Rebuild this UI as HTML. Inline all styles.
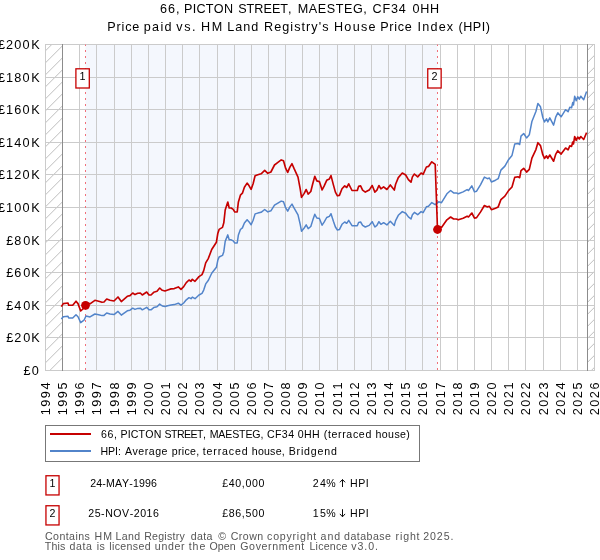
<!DOCTYPE html>
<html><head><meta charset="utf-8"><title>HPI chart</title>
<style>
html,body{margin:0;padding:0;background:#fff;}
svg{display:block;will-change:transform;}
text{font-family:"Liberation Sans",sans-serif;font-kerning:none;}
</style></head>
<body>
<svg width="600" height="560" viewBox="0 0 600 560">
<rect x="0" y="0" width="600" height="560" fill="#ffffff"/>
<defs>
<clipPath id="cl"><rect x="45" y="44" width="18" height="327"/></clipPath>
<clipPath id="cr"><rect x="587" y="44" width="8" height="327"/></clipPath>
<clipPath id="ax"><rect x="45" y="44" width="550" height="327"/></clipPath>
</defs>
<rect x="85.5" y="44.5" width="352.0" height="326" fill="#f4f7fd"/>
<path d="M40.0,-27.7L70.0,-57.7M40.0,-15.7L70.0,-45.7M40.0,-3.7L70.0,-33.7M40.0,8.3L70.0,-21.7M40.0,20.3L70.0,-9.7M40.0,32.3L70.0,2.3M40.0,44.3L70.0,14.3M40.0,56.3L70.0,26.3M40.0,68.3L70.0,38.3M40.0,80.3L70.0,50.3M40.0,92.3L70.0,62.3M40.0,104.3L70.0,74.3M40.0,116.3L70.0,86.3M40.0,128.3L70.0,98.3M40.0,140.3L70.0,110.3M40.0,152.3L70.0,122.3M40.0,164.3L70.0,134.3M40.0,176.3L70.0,146.3M40.0,188.3L70.0,158.3M40.0,200.3L70.0,170.3M40.0,212.3L70.0,182.3M40.0,224.3L70.0,194.3M40.0,236.3L70.0,206.3M40.0,248.3L70.0,218.3M40.0,260.3L70.0,230.3M40.0,272.3L70.0,242.3M40.0,284.3L70.0,254.3M40.0,296.3L70.0,266.3M40.0,308.3L70.0,278.3M40.0,320.3L70.0,290.3M40.0,332.3L70.0,302.3M40.0,344.3L70.0,314.3M40.0,356.3L70.0,326.3M40.0,368.3L70.0,338.3M40.0,380.3L70.0,350.3M40.0,392.3L70.0,362.3M40.0,404.3L70.0,374.3M40.0,416.3L70.0,386.3M40.0,428.3L70.0,398.3M40.0,440.3L70.0,410.3M40.0,452.3L70.0,422.3M40.0,464.3L70.0,434.3M40.0,476.3L70.0,446.3M40.0,488.3L70.0,458.3M40.0,500.3L70.0,470.3M40.0,512.3L70.0,482.3M40.0,524.3L70.0,494.3M40.0,536.3L70.0,506.3M40.0,548.3L70.0,518.3M40.0,560.3L70.0,530.3M40.0,572.3L70.0,542.3M40.0,584.3L70.0,554.3M40.0,596.3L70.0,566.3M40.0,608.3L70.0,578.3M40.0,620.3L70.0,590.3M40.0,632.3L70.0,602.3M40.0,644.3L70.0,614.3M40.0,656.3L70.0,626.3M40.0,668.3L70.0,638.3M40.0,680.3L70.0,650.3M40.0,692.3L70.0,662.3M40.0,704.3L70.0,674.3M40.0,716.3L70.0,686.3M40.0,728.3L70.0,698.3M40.0,740.3L70.0,710.3M40.0,752.3L70.0,722.3M40.0,764.3L70.0,734.3M40.0,776.3L70.0,746.3M40.0,788.3L70.0,758.3M40.0,800.3L70.0,770.3M40.0,812.3L70.0,782.3M40.0,824.3L70.0,794.3M40.0,836.3L70.0,806.3M40.0,848.3L70.0,818.3M40.0,860.3L70.0,830.3M40.0,872.3L70.0,842.3M40.0,884.3L70.0,854.3M40.0,896.3L70.0,866.3M40.0,908.3L70.0,878.3M40.0,920.3L70.0,890.3M40.0,932.3L70.0,902.3M40.0,944.3L70.0,914.3M40.0,956.3L70.0,926.3M40.0,968.3L70.0,938.3M40.0,980.3L70.0,950.3M40.0,992.3L70.0,962.3M40.0,1004.3L70.0,974.3M40.0,1016.3L70.0,986.3M40.0,1028.3L70.0,998.3M40.0,1040.3L70.0,1010.3M40.0,1052.3L70.0,1022.3M40.0,1064.3L70.0,1034.3" stroke="#b6b6b6" stroke-width="0.9" fill="none" clip-path="url(#cl)"/>
<path d="M580.0,-578.2L600.0,-598.2M580.0,-566.2L600.0,-586.2M580.0,-554.2L600.0,-574.2M580.0,-542.2L600.0,-562.2M580.0,-530.2L600.0,-550.2M580.0,-518.2L600.0,-538.2M580.0,-506.2L600.0,-526.2M580.0,-494.2L600.0,-514.2M580.0,-482.2L600.0,-502.2M580.0,-470.2L600.0,-490.2M580.0,-458.2L600.0,-478.2M580.0,-446.2L600.0,-466.2M580.0,-434.2L600.0,-454.2M580.0,-422.2L600.0,-442.2M580.0,-410.2L600.0,-430.2M580.0,-398.2L600.0,-418.2M580.0,-386.2L600.0,-406.2M580.0,-374.2L600.0,-394.2M580.0,-362.2L600.0,-382.2M580.0,-350.2L600.0,-370.2M580.0,-338.2L600.0,-358.2M580.0,-326.2L600.0,-346.2M580.0,-314.2L600.0,-334.2M580.0,-302.2L600.0,-322.2M580.0,-290.2L600.0,-310.2M580.0,-278.2L600.0,-298.2M580.0,-266.2L600.0,-286.2M580.0,-254.2L600.0,-274.2M580.0,-242.2L600.0,-262.2M580.0,-230.2L600.0,-250.2M580.0,-218.2L600.0,-238.2M580.0,-206.2L600.0,-226.2M580.0,-194.2L600.0,-214.2M580.0,-182.2L600.0,-202.2M580.0,-170.2L600.0,-190.2M580.0,-158.2L600.0,-178.2M580.0,-146.2L600.0,-166.2M580.0,-134.2L600.0,-154.2M580.0,-122.2L600.0,-142.2M580.0,-110.2L600.0,-130.2M580.0,-98.2L600.0,-118.2M580.0,-86.2L600.0,-106.2M580.0,-74.2L600.0,-94.2M580.0,-62.2L600.0,-82.2M580.0,-50.2L600.0,-70.2M580.0,-38.2L600.0,-58.2M580.0,-26.2L600.0,-46.2M580.0,-14.2L600.0,-34.2M580.0,-2.2L600.0,-22.2M580.0,9.8L600.0,-10.2M580.0,21.8L600.0,1.8M580.0,33.8L600.0,13.8M580.0,45.8L600.0,25.8M580.0,57.8L600.0,37.8M580.0,69.8L600.0,49.8M580.0,81.8L600.0,61.8M580.0,93.8L600.0,73.8M580.0,105.8L600.0,85.8M580.0,117.8L600.0,97.8M580.0,129.8L600.0,109.8M580.0,141.8L600.0,121.8M580.0,153.8L600.0,133.8M580.0,165.8L600.0,145.8M580.0,177.8L600.0,157.8M580.0,189.8L600.0,169.8M580.0,201.8L600.0,181.8M580.0,213.8L600.0,193.8M580.0,225.8L600.0,205.8M580.0,237.8L600.0,217.8M580.0,249.8L600.0,229.8M580.0,261.8L600.0,241.8M580.0,273.8L600.0,253.8M580.0,285.8L600.0,265.8M580.0,297.8L600.0,277.8M580.0,309.8L600.0,289.8M580.0,321.8L600.0,301.8M580.0,333.8L600.0,313.8M580.0,345.8L600.0,325.8M580.0,357.8L600.0,337.8M580.0,369.8L600.0,349.8M580.0,381.8L600.0,361.8M580.0,393.8L600.0,373.8M580.0,405.8L600.0,385.8M580.0,417.8L600.0,397.8M580.0,429.8L600.0,409.8M580.0,441.8L600.0,421.8M580.0,453.8L600.0,433.8M580.0,465.8L600.0,445.8M580.0,477.8L600.0,457.8M580.0,489.8L600.0,469.8M580.0,501.8L600.0,481.8M580.0,513.8L600.0,493.8" stroke="#b6b6b6" stroke-width="0.9" fill="none" clip-path="url(#cr)"/>
<path d="M45.5,44V371M62.5,44V371M79.5,44V371M96.5,44V371M114.5,44V371M131.5,44V371M148.5,44V371M165.5,44V371M182.5,44V371M199.5,44V371M217.5,44V371M234.5,44V371M251.5,44V371M268.5,44V371M285.5,44V371M302.5,44V371M319.5,44V371M337.5,44V371M354.5,44V371M371.5,44V371M388.5,44V371M405.5,44V371M422.5,44V371M440.5,44V371M457.5,44V371M474.5,44V371M491.5,44V371M508.5,44V371M525.5,44V371M543.5,44V371M560.5,44V371M577.5,44V371M594.5,44V371M45,370.5H595M45,337.5H595M45,305.5H595M45,272.5H595M45,240.5H595M45,207.5H595M45,174.5H595M45,142.5H595M45,109.5H595M45,77.5H595M45,44.5H595" stroke="#cbcbcb" stroke-width="1" fill="none" shape-rendering="crispEdges"/>
<path d="M62.5,44V371M587.5,44V371" stroke="#8c8c8c" stroke-width="1" fill="none"/>
<path d="M85.5,370V44.5" stroke="#f0707a" stroke-width="1" stroke-dasharray="2 4" fill="none"/>
<path d="M437.5,370V44.5" stroke="#f0707a" stroke-width="1" stroke-dasharray="2 4" fill="none"/>
<polyline points="61.3,319.1 63.3,316.7 68.0,316.2 68.7,318.0 72.7,318.0 76.0,314.7 78.0,316.7 80.7,322.6 84.0,320.2 86.0,316.0 90.0,316.9 94.9,314.0 98.7,314.7 102.0,315.6 104.0,315.4 106.7,313.0 110.0,314.0 114.0,314.6 118.0,311.4 121.3,315.1 127.3,310.8 130.0,310.2 132.7,308.2 135.0,309.4 137.7,308.4 140.3,308.2 142.3,309.8 146.7,307.3 149.0,309.8 151.0,309.8 153.7,307.6 157.0,306.8 159.7,304.1 162.3,306.0 165.0,306.5 167.7,305.7 171.0,304.9 174.3,304.6 178.3,303.2 181.0,305.2 183.7,303.0 186.3,299.8 189.0,297.7 191.0,298.7 192.3,297.1 195.0,298.7 199.0,295.0 202.0,293.3 203.7,290.1 205.7,283.9 208.4,280.2 211.7,273.2 216.4,267.3 217.8,260.3 219.1,257.0 222.5,255.4 223.8,251.7 225.2,241.4 227.8,234.9 229.2,239.8 231.2,239.8 233.2,240.9 234.8,243.0 237.2,243.0 238.4,234.9 240.4,229.5 242.4,227.9 244.4,223.0 247.1,219.7 249.1,221.9 251.1,224.8 253.1,220.3 255.1,213.9 257.8,213.1 261.1,212.3 264.7,209.5 267.8,211.9 270.9,210.8 274.5,205.2 277.9,203.1 281.2,201.1 283.5,201.8 285.7,207.9 287.7,211.1 289.9,206.9 292.0,204.1 294.0,207.9 298.0,214.9 300.2,224.3 301.5,231.2 304.2,228.0 306.2,224.9 308.2,228.6 310.8,226.5 312.8,220.1 314.8,214.3 316.8,218.0 319.4,218.5 322.1,225.2 324.1,222.2 326.7,217.5 329.4,216.4 331.0,213.7 333.4,221.2 335.4,227.0 337.4,230.0 339.4,229.6 342.0,224.3 344.7,222.0 346.7,223.3 348.7,220.3 352.0,225.7 357.3,225.7 358.6,222.4 360.6,222.0 362.6,225.4 365.3,227.0 369.2,225.4 372.2,221.7 374.9,227.0 376.9,225.4 378.9,221.7 380.9,224.3 383.6,222.7 386.9,224.9 390.3,221.2 394.3,225.4 395.6,220.6 398.3,215.3 402.3,211.6 405.7,213.2 408.4,216.9 411.0,219.0 412.4,214.7 414.4,212.4 417.7,214.7 421.1,211.6 423.1,212.7 426.4,206.8 428.5,206.3 431.8,202.6 435.2,204.7 438.7,201.8 441.5,202.7 446.9,193.8 450.6,190.5 453.6,192.9 456.3,192.9 458.3,193.8 463.1,191.9 467.1,189.6 468.5,190.5 471.8,185.9 474.5,191.9 476.6,191.2 480.6,184.6 484.4,177.1 487.4,178.7 489.4,178.0 491.4,182.0 495.5,180.2 498.2,178.7 500.9,170.1 504.9,166.1 508.7,159.4 512.0,155.4 514.7,144.1 518.0,143.4 519.7,144.5 521.0,136.1 523.7,133.5 526.6,137.9 529.3,134.8 531.9,121.5 535.9,111.5 537.9,103.5 540.5,106.8 542.8,117.5 544.5,121.9 546.5,118.8 547.8,121.9 549.8,117.9 553.6,125.1 555.8,116.8 557.8,112.8 561.1,116.8 565.6,109.7 568.1,111.8 569.8,107.2 571.6,107.8 572.7,102.6 573.5,104.9 574.7,96.2 576.2,100.8 577.7,96.8 579.3,99.1 580.8,96.2 583.7,99.7 586.6,91.6" fill="none" stroke="#5284ca" stroke-width="1.5" stroke-linejoin="round" stroke-linecap="butt" clip-path="url(#ax)"/>
<polyline points="61.3,306.6 63.3,303.6 68.0,303.0 68.7,305.2 72.7,305.2 76.0,301.2 78.0,303.6 80.7,311.0 84.0,308.0 86.0,302.7 90.0,303.9 94.9,300.3 98.7,301.2 102.0,302.3 104.0,302.0 106.7,299.0 110.0,300.3 114.0,301.0 118.0,297.0 121.3,301.6 127.3,296.3 130.0,295.6 132.7,293.0 135.0,294.6 137.7,293.3 140.3,293.0 142.3,295.0 146.7,292.0 149.0,295.0 151.0,295.0 153.7,292.3 157.0,291.3 159.7,288.0 162.3,290.3 165.0,291.0 167.7,290.0 171.0,288.9 174.3,288.6 178.3,286.9 181.0,289.3 183.7,286.6 186.3,282.6 189.0,280.0 191.0,281.3 192.3,279.3 195.0,281.3 199.0,276.6 202.0,274.6 203.7,270.6 205.7,262.9 208.4,258.3 211.7,249.5 216.4,242.2 217.8,233.5 219.1,229.4 222.5,227.4 223.8,222.8 225.2,210.0 227.8,202.0 229.2,208.0 231.2,208.0 233.2,209.4 234.8,212.0 237.2,212.0 238.4,201.9 240.4,195.2 242.4,193.2 244.4,187.2 247.1,183.1 249.1,185.8 251.1,189.4 253.1,183.8 255.1,175.8 257.8,174.8 261.1,173.8 264.7,170.4 267.8,173.3 270.9,172.0 274.5,165.0 277.9,162.4 281.2,159.9 283.5,160.8 285.7,168.4 287.7,172.4 289.9,167.1 292.0,163.7 294.0,168.4 298.0,177.1 300.2,188.8 301.5,197.4 304.2,193.4 306.2,189.5 308.2,194.1 310.8,191.5 312.8,183.5 314.8,176.3 316.8,180.9 319.4,181.6 322.1,189.9 324.1,186.2 326.7,180.3 329.4,178.9 331.0,175.6 333.4,184.9 335.4,192.1 337.4,195.8 339.4,195.4 342.0,188.8 344.7,185.9 346.7,187.5 348.7,183.8 352.0,190.5 357.3,190.5 358.6,186.4 360.6,185.9 362.6,190.1 365.3,192.1 369.2,190.1 372.2,185.5 374.9,192.1 376.9,190.1 378.9,185.5 380.9,188.8 383.6,186.8 386.9,189.5 390.3,184.9 394.3,190.1 395.6,184.2 398.3,177.6 402.3,173.0 405.7,175.0 408.4,179.6 411.0,182.2 412.4,176.9 414.4,174.0 417.7,176.9 421.1,173.0 423.1,174.3 426.4,167.0 428.5,166.4 431.8,161.8 435.2,164.4 437.5,229.5 438.7,226.6 441.5,227.4 446.9,219.8 450.6,217.0 453.6,219.0 456.3,219.0 458.3,219.8 463.1,218.2 467.1,216.2 468.5,217.0 471.8,213.0 474.5,218.2 476.6,217.6 480.6,211.9 484.4,205.5 487.4,206.9 489.4,206.3 491.4,209.7 495.5,208.2 498.2,206.9 500.9,199.6 504.9,196.1 508.7,190.4 512.0,187.0 514.7,177.4 518.0,176.8 519.7,177.7 521.0,170.6 523.7,168.3 526.6,172.1 529.3,169.4 531.9,158.1 535.9,149.6 537.9,142.7 540.5,145.6 542.8,154.7 544.5,158.4 546.5,155.8 547.8,158.4 549.8,155.0 553.6,161.2 555.8,154.1 557.8,150.7 561.1,154.1 565.6,148.0 568.1,149.8 569.8,145.9 571.6,146.4 572.7,142.0 573.5,143.9 574.7,136.5 576.2,140.4 577.7,137.0 579.3,139.0 580.8,136.5 583.7,139.5 586.6,132.6" fill="none" stroke="#c60000" stroke-width="1.65" stroke-linejoin="round" stroke-linecap="butt" clip-path="url(#ax)"/>
<circle cx="85.5" cy="305.3" r="4.4" fill="#c60000"/>
<circle cx="437.5" cy="229.5" r="4.4" fill="#c60000"/>
<rect x="75.90" y="68.8" width="13.4" height="19.2" fill="#fff" stroke="#c60000" stroke-width="1.3"/>
<text x="82.6" y="80" font-size="10.8" text-anchor="middle">1</text>
<rect x="427.75" y="68.8" width="13.4" height="19.2" fill="#fff" stroke="#c60000" stroke-width="1.3"/>
<text x="434.45" y="80" font-size="10.8" text-anchor="middle">2</text>
<text x="159.99" y="12.6" font-size="12.6" letter-spacing="1.001">66,</text>
<text x="183.97" y="12.6" font-size="12.6" letter-spacing="0.292">PICTON</text>
<text x="238.18" y="12.6" font-size="12.6" letter-spacing="0.041">STREET,</text>
<text x="297.72" y="12.6" font-size="12.6" letter-spacing="0.579">MAESTEG,</text>
<text x="372.61" y="12.6" font-size="12.6" letter-spacing="0.816">CF34</text>
<text x="412.51" y="12.6" font-size="12.6" letter-spacing="0.657">0HH</text>
<text x="107.22" y="31" font-size="12.6" letter-spacing="0.847">Price</text>
<text x="143.69" y="31" font-size="12.6" letter-spacing="1.351">paid</text>
<text x="176.33" y="31" font-size="12.6" letter-spacing="1.545">vs.</text>
<text x="201.06" y="31" font-size="12.6" letter-spacing="1.545">HM</text>
<text x="227.22" y="31" font-size="12.6" letter-spacing="1.022">Land</text>
<text x="263.97" y="31" font-size="12.6" letter-spacing="1.064">Registry&#39;s</text>
<text x="333.97" y="31" font-size="12.6" letter-spacing="1.293">House</text>
<text x="380.22" y="31" font-size="12.6" letter-spacing="0.722">Price</text>
<text x="417.59" y="31" font-size="12.6" letter-spacing="1.181">Index</text>
<text x="458.47" y="31" font-size="12.6" letter-spacing="0.542">(HPI)</text>
<text x="23.47 31.67" y="374.8" font-size="12.7">£0</text>
<text x="6.22 14.22 23.22 31.25" y="341.8" font-size="12.7">£20K</text>
<text x="6.22 14.22 23.22 31.25" y="309.8" font-size="12.7">£40K</text>
<text x="6.22 14.22 23.22 31.25" y="276.8" font-size="12.7">£60K</text>
<text x="6.22 14.22 23.22 31.25" y="244.8" font-size="12.7">£80K</text>
<text x="-2.03 6.07 14.22 22.47 31.25" y="211.8" font-size="12.7">£100K</text>
<text x="-2.03 6.07 14.22 22.47 31.25" y="178.8" font-size="12.7">£120K</text>
<text x="-2.03 6.07 14.22 22.47 31.25" y="146.8" font-size="12.7">£140K</text>
<text x="-2.03 6.07 14.22 22.47 31.25" y="113.8" font-size="12.7">£160K</text>
<text x="-2.03 6.07 14.22 22.47 31.25" y="81.8" font-size="12.7">£180K</text>
<text x="-2.03 6.07 14.22 22.47 31.25" y="48.8" font-size="12.7">£200K</text>
<text transform="translate(50.0,415.3) rotate(-90)" font-size="12.7" textLength="32.8" lengthAdjust="spacing">1994</text>
<text transform="translate(67.0,415.3) rotate(-90)" font-size="12.7" textLength="32.8" lengthAdjust="spacing">1995</text>
<text transform="translate(84.0,415.3) rotate(-90)" font-size="12.7" textLength="32.8" lengthAdjust="spacing">1996</text>
<text transform="translate(101.0,415.3) rotate(-90)" font-size="12.7" textLength="32.8" lengthAdjust="spacing">1997</text>
<text transform="translate(119.0,415.3) rotate(-90)" font-size="12.7" textLength="32.8" lengthAdjust="spacing">1998</text>
<text transform="translate(136.0,415.3) rotate(-90)" font-size="12.7" textLength="32.8" lengthAdjust="spacing">1999</text>
<text transform="translate(153.0,415.3) rotate(-90)" font-size="12.7" textLength="32.8" lengthAdjust="spacing">2000</text>
<text transform="translate(170.0,415.3) rotate(-90)" font-size="12.7" textLength="32.8" lengthAdjust="spacing">2001</text>
<text transform="translate(187.0,415.3) rotate(-90)" font-size="12.7" textLength="32.8" lengthAdjust="spacing">2002</text>
<text transform="translate(204.0,415.3) rotate(-90)" font-size="12.7" textLength="32.8" lengthAdjust="spacing">2003</text>
<text transform="translate(222.0,415.3) rotate(-90)" font-size="12.7" textLength="32.8" lengthAdjust="spacing">2004</text>
<text transform="translate(239.0,415.3) rotate(-90)" font-size="12.7" textLength="32.8" lengthAdjust="spacing">2005</text>
<text transform="translate(256.0,415.3) rotate(-90)" font-size="12.7" textLength="32.8" lengthAdjust="spacing">2006</text>
<text transform="translate(273.0,415.3) rotate(-90)" font-size="12.7" textLength="32.8" lengthAdjust="spacing">2007</text>
<text transform="translate(290.0,415.3) rotate(-90)" font-size="12.7" textLength="32.8" lengthAdjust="spacing">2008</text>
<text transform="translate(307.0,415.3) rotate(-90)" font-size="12.7" textLength="32.8" lengthAdjust="spacing">2009</text>
<text transform="translate(324.0,415.3) rotate(-90)" font-size="12.7" textLength="32.8" lengthAdjust="spacing">2010</text>
<text transform="translate(342.0,415.3) rotate(-90)" font-size="12.7" textLength="32.8" lengthAdjust="spacing">2011</text>
<text transform="translate(359.0,415.3) rotate(-90)" font-size="12.7" textLength="32.8" lengthAdjust="spacing">2012</text>
<text transform="translate(376.0,415.3) rotate(-90)" font-size="12.7" textLength="32.8" lengthAdjust="spacing">2013</text>
<text transform="translate(393.0,415.3) rotate(-90)" font-size="12.7" textLength="32.8" lengthAdjust="spacing">2014</text>
<text transform="translate(410.0,415.3) rotate(-90)" font-size="12.7" textLength="32.8" lengthAdjust="spacing">2015</text>
<text transform="translate(427.0,415.3) rotate(-90)" font-size="12.7" textLength="32.8" lengthAdjust="spacing">2016</text>
<text transform="translate(445.0,415.3) rotate(-90)" font-size="12.7" textLength="32.8" lengthAdjust="spacing">2017</text>
<text transform="translate(462.0,415.3) rotate(-90)" font-size="12.7" textLength="32.8" lengthAdjust="spacing">2018</text>
<text transform="translate(479.0,415.3) rotate(-90)" font-size="12.7" textLength="32.8" lengthAdjust="spacing">2019</text>
<text transform="translate(496.0,415.3) rotate(-90)" font-size="12.7" textLength="32.8" lengthAdjust="spacing">2020</text>
<text transform="translate(513.0,415.3) rotate(-90)" font-size="12.7" textLength="32.8" lengthAdjust="spacing">2021</text>
<text transform="translate(530.0,415.3) rotate(-90)" font-size="12.7" textLength="32.8" lengthAdjust="spacing">2022</text>
<text transform="translate(548.0,415.3) rotate(-90)" font-size="12.7" textLength="32.8" lengthAdjust="spacing">2023</text>
<text transform="translate(565.0,415.3) rotate(-90)" font-size="12.7" textLength="32.8" lengthAdjust="spacing">2024</text>
<text transform="translate(582.0,415.3) rotate(-90)" font-size="12.7" textLength="32.8" lengthAdjust="spacing">2025</text>
<text transform="translate(599.0,415.3) rotate(-90)" font-size="12.7" textLength="32.8" lengthAdjust="spacing">2026</text>
<rect x="45.5" y="425.5" width="373.6" height="36" fill="#fff" stroke="#777777" stroke-width="1" shape-rendering="crispEdges"/>
<path d="M50,434H91" stroke="#c60000" stroke-width="2" fill="none"/>
<path d="M50,451H91" stroke="#5284ca" stroke-width="2" fill="none"/>
<text x="100.94" y="437.5" font-size="10.6" letter-spacing="0.649">66,</text>
<text x="120.38" y="437.5" font-size="10.6" letter-spacing="0.188">PICTON</text>
<text x="164.52" y="437.5" font-size="10.6" letter-spacing="-0.554">STREET,</text>
<text x="209.63" y="437.5" font-size="10.6" letter-spacing="-0.136">MAESTEG,</text>
<text x="266.96" y="437.5" font-size="10.6" letter-spacing="0.393">CF34</text>
<text x="297.84" y="437.5" font-size="10.6" letter-spacing="0.287">0HH</text>
<text x="323.71" y="437.5" font-size="10.6" letter-spacing="0.649">(terraced</text>
<text x="375.52" y="437.5" font-size="10.6" letter-spacing="0.396">house)</text>
<text x="100.38" y="454.7" font-size="10.6" letter-spacing="-0.009">HPI:</text>
<text x="124.98" y="454.7" font-size="10.6" letter-spacing="0.502">Average</text>
<text x="171.82" y="454.7" font-size="10.6" letter-spacing="0.293">price,</text>
<text x="202.84" y="454.7" font-size="10.6" letter-spacing="0.851">terraced</text>
<text x="251.77" y="454.7" font-size="10.6" letter-spacing="0.222">house,</text>
<text x="288.63" y="454.7" font-size="10.6" letter-spacing="0.839">Bridgend</text>
<rect x="45.95" y="475.75" width="13.1" height="19.2" fill="#fff" stroke="#c60000" stroke-width="1.3"/>
<text x="52.4" y="487" font-size="10.6" text-anchor="middle">1</text>
<text x="123.6" y="487" font-size="10.6" text-anchor="middle" textLength="66.6" lengthAdjust="spacing">24-MAY-1996</text>
<text x="222.3" y="487" font-size="10.6" textLength="42" lengthAdjust="spacing">£40,000</text>
<text x="312.8 319.9 326.3" y="487" font-size="10.6">24%</text>
<text x="350.1" y="487" font-size="10.6" textLength="18.6" lengthAdjust="spacing">HPI</text>
<path d="M342.5,487V479.7M339.9,482.3L342.5,479.5L345.1,482.3" stroke="#000" stroke-width="0.95" fill="none"/>
<rect x="45.95" y="505.75" width="13.1" height="19.2" fill="#fff" stroke="#c60000" stroke-width="1.3"/>
<text x="52.4" y="517" font-size="10.6" text-anchor="middle">2</text>
<text x="123.6" y="517" font-size="10.6" text-anchor="middle" textLength="70.7" lengthAdjust="spacing">25-NOV-2016</text>
<text x="222.3" y="517" font-size="10.6" textLength="42" lengthAdjust="spacing">£86,500</text>
<text x="312.8 319.9 326.3" y="517" font-size="10.6">15%</text>
<text x="350.1" y="517" font-size="10.6" textLength="18.6" lengthAdjust="spacing">HPI</text>
<path d="M342.5,509.2V516.6M339.9,513.9L342.5,516.8L345.1,513.9" stroke="#000" stroke-width="0.95" fill="none"/>
<text x="44.96" y="539.6" font-size="10.6" letter-spacing="0.441" fill="#555555">Contains</text>
<text x="94.61" y="539.6" font-size="10.6" letter-spacing="1.043" fill="#555555">HM</text>
<text x="115.38" y="539.6" font-size="10.6" letter-spacing="0.407" fill="#555555">Land</text>
<text x="144.13" y="539.6" font-size="10.6" letter-spacing="0.252" fill="#555555">Registry</text>
<text x="190.80" y="539.6" font-size="10.6" letter-spacing="0.355" fill="#555555">data</text>
<text x="218.35" y="539.6" font-size="10.6" letter-spacing="0.000" fill="#555555">©</text>
<text x="230.71" y="539.6" font-size="10.6" letter-spacing="0.462" fill="#555555">Crown</text>
<text x="267.05" y="539.6" font-size="10.6" letter-spacing="0.783" fill="#555555">copyright</text>
<text x="320.55" y="539.6" font-size="10.6" letter-spacing="0.974" fill="#555555">and</text>
<text x="344.05" y="539.6" font-size="10.6" letter-spacing="0.471" fill="#555555">database</text>
<text x="395.55" y="539.6" font-size="10.6" letter-spacing="0.853" fill="#555555">right</text>
<text x="423.22" y="539.6" font-size="10.6" letter-spacing="0.931" fill="#555555">2025.</text>
<text x="44.76" y="549.9" font-size="10.6" letter-spacing="0.199" fill="#555555">This</text>
<text x="69.55" y="549.9" font-size="10.6" letter-spacing="0.605" fill="#555555">data</text>
<text x="96.79" y="549.9" font-size="10.6" letter-spacing="0.437" fill="#555555">is</text>
<text x="109.29" y="549.9" font-size="10.6" letter-spacing="0.358" fill="#555555">licensed</text>
<text x="154.81" y="549.9" font-size="10.6" letter-spacing="0.688" fill="#555555">under</text>
<text x="188.70" y="549.9" font-size="10.6" letter-spacing="0.965" fill="#555555">the</text>
<text x="209.50" y="549.9" font-size="10.6" letter-spacing="0.087" fill="#555555">Open</text>
<text x="240.22" y="549.9" font-size="10.6" letter-spacing="0.643" fill="#555555">Government</text>
<text x="309.38" y="549.9" font-size="10.6" letter-spacing="0.259" fill="#555555">Licence</text>
<text x="351.21" y="549.9" font-size="10.6" letter-spacing="0.943" fill="#555555">v3.0.</text>
</svg>
</body></html>
